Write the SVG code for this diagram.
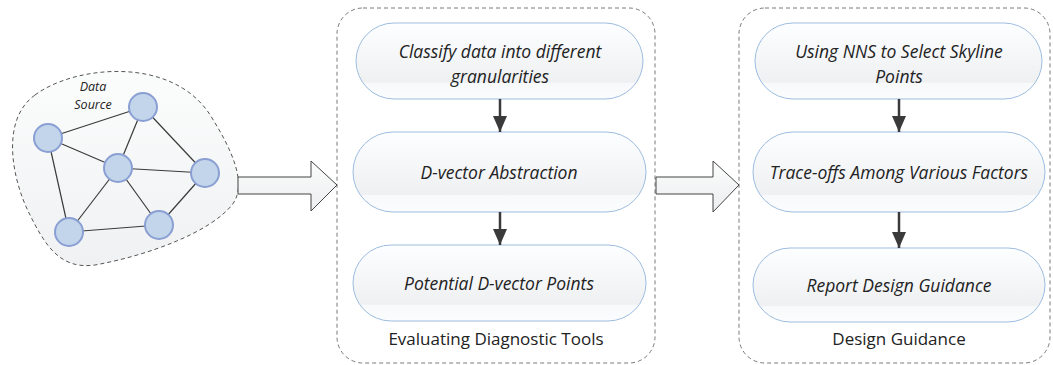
<svg xmlns="http://www.w3.org/2000/svg" width="1053" height="365" viewBox="0 0 1053 365">
<defs>
<linearGradient id="pillg" x1="0" y1="0" x2="0" y2="1">
<stop offset="0" stop-color="#fdfeff"/>
<stop offset="0.78" stop-color="#eef0f2"/>
<stop offset="0.79" stop-color="#f8f9fa"/>
<stop offset="1" stop-color="#fbfcfd"/>
</linearGradient>
<linearGradient id="blobg" x1="0" y1="0" x2="0" y2="1">
<stop offset="0" stop-color="#fbfcfc"/>
<stop offset="1" stop-color="#f0f1f2"/>
</linearGradient>
<linearGradient id="arrg" x1="0" y1="0" x2="0" y2="1">
<stop offset="0" stop-color="#fbfcfc"/>
<stop offset="1" stop-color="#eceeef"/>
</linearGradient>
<marker id="ah" markerWidth="16" markerHeight="14" refX="16" refY="7" orient="auto" markerUnits="userSpaceOnUse">
<path d="M0,0 L16,7 L0,14 Z" fill="#3a3a3a"/>
</marker>
</defs>
<style>
.cont{fill:none;stroke:#7a7a7a;stroke-width:1;stroke-dasharray:4 3}
.pill{fill:url(#pillg);stroke:#9dbde0;stroke-width:1}
.pt{font-family:"Open Sans","Noto Sans",sans-serif;font-style:italic;font-size:17.5px;fill:#222;text-anchor:middle}
.lab{font-family:"Open Sans","Noto Sans",sans-serif;font-size:17px;fill:#222;text-anchor:middle}
.ds{font-family:"Open Sans","Noto Sans",sans-serif;font-style:italic;font-size:12.5px;fill:#222;text-anchor:middle}
.node{fill:#c2d5ea;stroke:#8a9fd3;stroke-width:2}
.edge{stroke:#3a3a3a;stroke-width:1.2;fill:none}
.conn{stroke:#3a3a3a;stroke-width:2.5;fill:none;marker-end:url(#ah)}
.big{fill:url(#arrg);stroke:#444;stroke-width:1}
</style>

<g id="data-source">
<path d="M35,95 C75,65 175,55 212,118 C232,150 248,185 232,205 C210,232 150,255 95,265 C60,270 45,245 30,215 C12,180 0,120 35,95 Z" fill="url(#blobg)" stroke="#555" stroke-width="1" stroke-dasharray="4 3"/>
<text class="ds" x="93" y="91">Data</text>
<text class="ds" x="93" y="109">Source</text>
<g id="graph-edges">
<line class="edge" x1="48" y1="138" x2="143" y2="107"/>
<line class="edge" x1="48" y1="138" x2="118" y2="168"/>
<line class="edge" x1="48" y1="138" x2="69" y2="232"/>
<line class="edge" x1="143" y1="107" x2="118" y2="168"/>
<line class="edge" x1="143" y1="107" x2="205" y2="173"/>
<line class="edge" x1="118" y1="168" x2="205" y2="173"/>
<line class="edge" x1="118" y1="168" x2="69" y2="232"/>
<line class="edge" x1="118" y1="168" x2="159" y2="225"/>
<line class="edge" x1="205" y1="173" x2="159" y2="225"/>
<line class="edge" x1="69" y1="232" x2="159" y2="225"/>
</g>
<g id="graph-nodes">
<circle class="node" cx="48" cy="138" r="14"/>
<circle class="node" cx="143" cy="107" r="14"/>
<circle class="node" cx="118" cy="168" r="14"/>
<circle class="node" cx="205" cy="173" r="14"/>
<circle class="node" cx="69" cy="232" r="14"/>
<circle class="node" cx="159" cy="225" r="14"/>
</g>
</g>

<g id="evaluating">
<rect class="cont" x="337" y="8" width="318" height="355" rx="26"/>
<text class="lab" x="496" y="345">Evaluating Diagnostic Tools</text>
</g>
<g id="classify">
<rect class="pill" x="356" y="23" width="287" height="76" rx="38"/>
<text class="pt" x="500" y="58">Classify data into different</text>
<text class="pt" x="500" y="83">granularities</text>
</g>
<g id="dvector">
<rect class="pill" x="353" y="132" width="293" height="80" rx="40"/>
<text class="pt" x="499" y="179">D-vector Abstraction</text>
</g>
<g id="potential">
<rect class="pill" x="353" y="245" width="293" height="76" rx="38"/>
<text class="pt" x="499" y="290">Potential D-vector Points</text>
</g>

<g id="guidance">
<rect class="cont" x="739" y="8" width="311" height="355" rx="26"/>
<text class="lab" x="899" y="345">Design Guidance</text>
</g>
<g id="nns">
<rect class="pill" x="755" y="23" width="287" height="76" rx="38"/>
<text class="pt" x="899" y="58">Using NNS to Select Skyline</text>
<text class="pt" x="899" y="83">Points</text>
</g>
<g id="tradeoffs">
<rect class="pill" x="753" y="132" width="292" height="80" rx="40"/>
<text class="pt" x="899" y="179">Trace-offs Among Various Factors</text>
</g>
<g id="report">
<rect class="pill" x="753" y="248" width="292" height="74" rx="37"/>
<text class="pt" x="899" y="292">Report Design Guidance</text>
</g>

<g id="connectors">
<polygon class="big" points="238,177 311,177 311,161 337,185 311,211 311,194 238,194"/>
<polygon class="big" points="656,177 713,177 713,161 739,185 713,212 713,194 656,194"/>
<line class="conn" x1="500" y1="99" x2="500" y2="132"/>
<line class="conn" x1="500" y1="212" x2="500" y2="245"/>
<line class="conn" x1="899" y1="99" x2="899" y2="132"/>
<line class="conn" x1="899" y1="212" x2="899" y2="248"/>
</g>
</svg>
